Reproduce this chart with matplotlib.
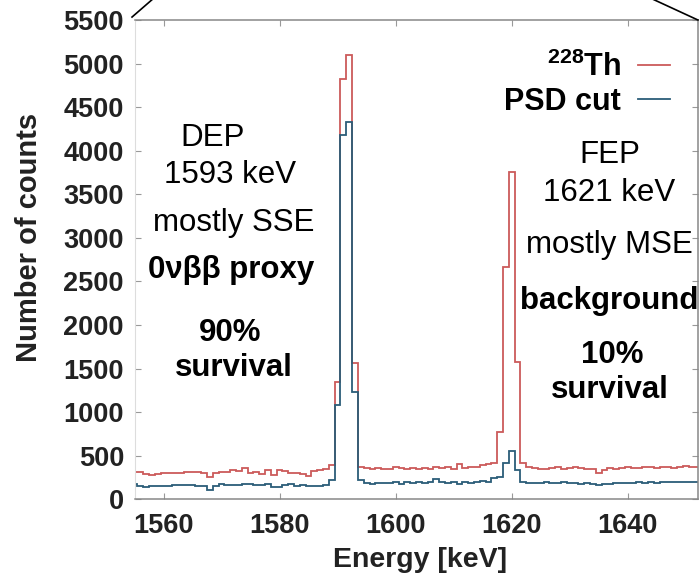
import numpy as np
import matplotlib
matplotlib.use('Agg')
import matplotlib.pyplot as plt
from matplotlib.lines import Line2D

plt.rcParams['font.family'] = ['Liberation Sans', 'DejaVu Sans']
plt.rcParams['mathtext.default'] = 'regular'

# bin centres (1 keV bins)
energy = np.arange(1555, 1653)

# Th-228 spectrum, counts per bin
th228 = [315, 310, 290, 280, 285, 300, 300, 305, 300, 310,   # 1555-1564
         315, 310, 305, 255, 305, 315, 310, 330, 325, 355,   # 1565-1574
         300, 310, 295, 335, 275, 330, 325, 300, 305, 295,   # 1575-1584
         270, 320, 330, 345, 390, 1350, 4820, 5100, 1560, 370,  # 1585-1594
         360, 345, 355, 345, 350, 365, 360, 350, 355, 345,   # 1595-1604
         355, 350, 370, 355, 365, 345, 400, 360, 370, 375,   # 1605-1614
         390, 400, 413, 770, 2660, 3750, 1570, 410, 365, 355,  # 1615-1624
         350, 345, 355, 365, 350, 360, 370, 355, 350, 345,   # 1625-1634
         300, 340, 355, 350, 360, 365, 355, 360, 370, 365,   # 1635-1644
         360, 375, 370, 360, 370, 380, 365, 375]             # 1645-1652

# after pulse shape discrimination cut
psd_cut = [180, 150, 145, 150, 150, 155, 150, 160, 160, 165,  # 1555-1564
           160, 155, 150, 110, 150, 170, 160, 165, 165, 170,  # 1565-1574
           175, 165, 160, 170, 140, 145, 160, 170, 155, 160,  # 1575-1584
           150, 150, 155, 160, 220, 1080, 4180, 4330, 1230, 220,  # 1585-1594
           185, 175, 190, 185, 190, 195, 180, 195, 190, 200,  # 1595-1604
           185, 195, 235, 195, 185, 200, 180, 195, 190, 200,  # 1605-1614
           210, 200, 240, 260, 410, 550, 330, 195, 190, 185,  # 1615-1624
           190, 195, 185, 190, 195, 190, 185, 180, 185, 175,  # 1625-1634
           160, 170, 180, 185, 190, 185, 190, 195, 190, 195,  # 1635-1644
           190, 195, 200, 195, 200, 195, 200, 195]             # 1645-1652

edges = np.append(energy - 0.5, energy[-1] + 0.5)

fig = plt.figure(figsize=(7, 5.88), dpi=100)
ax = fig.add_axes([0.193, 0.151, 0.804, 0.815])

ax.stairs(th228, edges, baseline=None, color='#cc5a5a', lw=1.3, label=r'$^{228}$Th')
ax.stairs(psd_cut, edges, baseline=None, color='#2b5d78', lw=1.3, label='PSD cut')

ax.set_xlim(1555.1, 1652.1)
ax.set_ylim(0, 5500)
ax.set_xticks([1560, 1580, 1600, 1620, 1640])
ax.set_yticks(np.arange(0, 5501, 500))
ax.tick_params(direction='in', length=4, width=0.8, color='#999999',
               top=True, right=True, labelsize=19.5)
ax.tick_params(axis='x', pad=10)
ax.tick_params(axis='y', pad=8)
for lab in ax.get_xticklabels() + ax.get_yticklabels():
    lab.set_fontweight('bold')
    lab.set_color('#222222')

for s in ['top', 'bottom', 'right']:
    ax.spines[s].set_color('#888888')
    ax.spines[s].set_linewidth(1.1)
ax.spines['left'].set_color('#dddddd')

ax.set_ylabel('Number of counts', fontsize=21, fontweight='bold', color='#222222', va='center')
ax.yaxis.set_label_coords(-0.188, 0.547)
ax.set_xlabel('Energy [keV]', fontsize=20.5, fontweight='bold', color='#222222', va='center')
ax.xaxis.set_label_coords(0.506, -0.127)

leg = ax.legend(loc='upper right', markerfirst=False, frameon=False,
                prop={'size': 22, 'weight': 'bold'}, handlelength=1.05,
                handletextpad=0.55, labelspacing=0.12, borderaxespad=0.25,
                bbox_to_anchor=(0.985, 0.975))

tr = ax.transAxes
txt = dict(transform=tr, ha='center', va='center', fontsize=22.5, color='black')
ax.text(0.137, 0.754, 'DEP', **txt)
ax.text(0.169, 0.676, '1593 keV', **txt)
ax.text(0.176, 0.576, 'mostly SSE', **txt)
ax.text(0.171, 0.478, '0νββ proxy', fontweight='bold', **txt)
ax.text(0.169, 0.347, '90%', fontweight='bold', **txt)
ax.text(0.176, 0.273, 'survival', fontweight='bold', **txt)

ax.text(0.844, 0.718, 'FEP', **txt)
ax.text(0.842, 0.639, '1621 keV', **txt)
ax.text(0.842, 0.530, 'mostly MSE', **txt)
ax.text(0.684, 0.413, 'background', transform=tr, ha='left', va='center',
        fontsize=22.5, fontweight='bold', clip_on=False)
ax.text(0.847, 0.301, '10%', fontweight='bold', **txt)
ax.text(0.844, 0.228, 'survival', fontweight='bold', **txt)

# zoom indicator lines from the parent figure
fig.add_artist(Line2D([0.1886, 0.2215], [0.971, 1.005], color='black', lw=1.2,
                      transform=fig.transFigure))
fig.add_artist(Line2D([0.997, 0.926], [0.966, 1.005], color='black', lw=1.2,
                      transform=fig.transFigure))

fig.savefig('out.png', dpi=100)
